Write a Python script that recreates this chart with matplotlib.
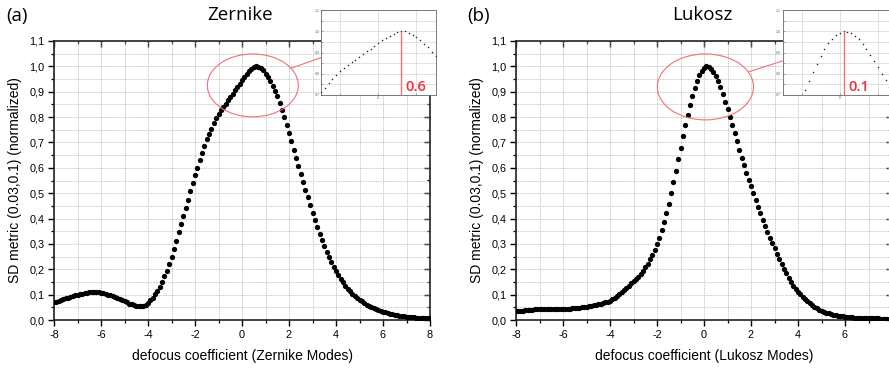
import numpy as np
import matplotlib
matplotlib.use("Agg")
import matplotlib.pyplot as plt
from matplotlib.patches import Ellipse, ConnectionPatch
from matplotlib.ticker import MultipleLocator, FuncFormatter, FixedLocator

# ---------------- data ----------------
defocus = np.round(np.linspace(-8, 8, 161), 1)

zernike_sd = [
    0.070, 0.072, 0.075, 0.078, 0.081, 0.085, 0.088, 0.091, 0.094, 0.097,
    0.100, 0.102, 0.104, 0.106, 0.108, 0.109, 0.110, 0.110, 0.110, 0.109,
    0.108, 0.106, 0.103, 0.100, 0.097, 0.093, 0.089, 0.085, 0.081, 0.077,
    0.073, 0.069, 0.065, 0.062, 0.059, 0.056, 0.055, 0.055, 0.057, 0.061,
    0.068, 0.077, 0.088, 0.102, 0.116, 0.131, 0.150, 0.172, 0.195, 0.219,
    0.247, 0.279, 0.312, 0.346, 0.378, 0.409, 0.441, 0.474, 0.508, 0.540,
    0.570, 0.601, 0.630, 0.659, 0.687, 0.712, 0.733, 0.755, 0.776, 0.796,
    0.812, 0.826, 0.839, 0.853, 0.866, 0.879, 0.892, 0.905, 0.918, 0.932,
    0.945, 0.958, 0.970, 0.980, 0.989, 0.996, 1.000, 0.999, 0.993, 0.984,
    0.971, 0.957, 0.941, 0.924, 0.904, 0.882, 0.857, 0.829, 0.800, 0.769,
    0.737, 0.705, 0.672, 0.640, 0.608, 0.576, 0.545, 0.513, 0.483, 0.453,
    0.422, 0.395, 0.367, 0.341, 0.316, 0.292, 0.270, 0.248, 0.228, 0.210,
    0.193, 0.177, 0.162, 0.148, 0.135, 0.124, 0.113, 0.104, 0.095, 0.087,
    0.080, 0.073, 0.067, 0.061, 0.056, 0.051, 0.047, 0.043, 0.039, 0.036,
    0.033, 0.030, 0.027, 0.025, 0.023, 0.021, 0.019, 0.017, 0.016, 0.014,
    0.013, 0.012, 0.011, 0.010, 0.0095, 0.009, 0.0085, 0.008, 0.0075, 0.007,
    0.007,
]

lukosz_sd = [
    0.034, 0.035, 0.036, 0.037, 0.038, 0.039, 0.040, 0.041, 0.042, 0.042,
    0.043, 0.043, 0.043, 0.043, 0.043, 0.043, 0.043, 0.043, 0.043, 0.043,
    0.043, 0.044, 0.044, 0.045, 0.046, 0.047, 0.048, 0.049, 0.050, 0.052,
    0.053, 0.055, 0.056, 0.058, 0.060, 0.062, 0.064, 0.066, 0.069, 0.072,
    0.076, 0.081, 0.087, 0.094, 0.101, 0.109, 0.117, 0.126, 0.135, 0.144,
    0.153, 0.162, 0.171, 0.181, 0.192, 0.207, 0.222, 0.239, 0.257, 0.277,
    0.300, 0.325, 0.355, 0.386, 0.421, 0.459, 0.500, 0.543, 0.587, 0.633,
    0.680, 0.725, 0.768, 0.810, 0.848, 0.883, 0.915, 0.943, 0.965, 0.982,
    0.994, 1.000, 0.998, 0.990, 0.978, 0.962, 0.942, 0.918, 0.890, 0.860,
    0.830, 0.800, 0.770, 0.738, 0.705, 0.672, 0.640, 0.610, 0.580, 0.553,
    0.527, 0.500, 0.474, 0.447, 0.421, 0.395, 0.371, 0.347, 0.325, 0.304,
    0.282, 0.261, 0.242, 0.222, 0.202, 0.184, 0.166, 0.150, 0.136, 0.123,
    0.112, 0.101, 0.091, 0.082, 0.074, 0.066, 0.059, 0.052, 0.046, 0.041,
    0.036, 0.032, 0.029, 0.026, 0.023, 0.021, 0.019, 0.017, 0.015, 0.014,
    0.013, 0.012, 0.011, 0.010, 0.009, 0.009, 0.008, 0.008, 0.007, 0.007,
    0.007, 0.006, 0.006, 0.006, 0.006, 0.005, 0.005, 0.005, 0.005, 0.005,
    0.005,
]

panel_tags = ["(a)", "(b)"]
panel_titles = ["Zernike", "Lukosz"]
xlabels = ["defocus coefficient (Zernike Modes)", "defocus coefficient (Lukosz Modes)"]
ylabel = "SD metric (0.03,0.1) (normalized)"
peaks = [0.6, 0.1]
peak_labels = ["0.6", "0.1"]
series = [zernike_sd, lukosz_sd]
x_ticks_shown = [[-8, -6, -4, -2, 0, 2, 4, 6, 8], [-8, -6, -4, -2, 0, 2, 4, 6]]

# ---------------- style ----------------
plt.rcParams["font.family"] = ["Liberation Sans", "DejaVu Sans"]
W, H = 889, 372
fig = plt.figure(figsize=(W / 100, H / 100), dpi=100)

def fx(px):
    return px / W

def fy(py):
    return 1 - py / H

ax_rects = [
    [fx(54), fy(320), 376 / W, 279 / H],
    [fx(516), fy(320), 376 / W, 279 / H],
]
inset_rects = [
    [fx(321), fy(95), 114.5 / W, 85 / H],
    [fx(782.5), fy(95), 114.5 / W, 85 / H],
]
ellipses = [  # center x, center y, width, height (data units)
    (0.46, 0.925, 3.87, 0.248),
    (0.06, 0.919, 4.09, 0.26),
]
ell_angle = [33, 27]
conn_frac = [0.44, 0.40]
title_x = [240, 702]
tag_x = [6, 467]
ylabel_x = [15, 477]

red_line = "#f07078"
red_text = "#e8333c"
grid_col = "#b4b4b4"

comma_fmt = FuncFormatter(lambda v, p: f"{v:.1f}".replace(".", ","))

for i in range(2):
    ax = fig.add_axes(ax_rects[i])
    ax.plot(defocus, series[i], "o", color="black", ms=3.8, mew=0, zorder=3)
    ax.set_xlim(-8, 8)
    ax.set_ylim(0, 1.1)
    shown = x_ticks_shown[i]
    ax.xaxis.set_major_locator(MultipleLocator(2))
    ax.xaxis.set_major_formatter(FuncFormatter(
        lambda v, p, s=shown: f"{v:g}" if any(abs(v - t) < 1e-9 for t in s) else ""))
    ax.xaxis.set_minor_locator(MultipleLocator(1))
    ax.yaxis.set_major_locator(MultipleLocator(0.1))
    ax.yaxis.set_minor_locator(MultipleLocator(0.05))
    ax.yaxis.set_major_formatter(comma_fmt)
    ax.set_axisbelow(True)
    ax.grid(which="both", color=grid_col, linestyle=(0, (1, 1)), linewidth=0.6)
    for s in ax.spines.values():
        s.set_linewidth(1.2)
        s.set_color("#222222")
    ax.tick_params(which="major", direction="out", length=4.5, width=1.0,
                   labelsize=7.8, pad=2.5)
    ax.tick_params(which="minor", direction="out", length=2.5, width=0.9)
    # mirrored inward ticks on top / right
    sx = ax.secondary_xaxis("top")
    sx.xaxis.set_major_locator(MultipleLocator(2))
    sx.xaxis.set_minor_locator(MultipleLocator(1))
    sx.tick_params(which="major", direction="in", length=4, width=1.0, labeltop=False)
    sx.tick_params(which="minor", direction="in", length=2.5, width=0.9)
    sx.spines["top"].set_visible(False)
    sy = ax.secondary_yaxis("right")
    sy.yaxis.set_major_locator(MultipleLocator(0.1))
    sy.yaxis.set_minor_locator(MultipleLocator(0.05))
    sy.tick_params(which="major", direction="in", length=4, width=1.0, labelright=False)
    sy.tick_params(which="minor", direction="in", length=2.5, width=0.9)
    sy.spines["right"].set_visible(False)

    ax.set_xlabel(xlabels[i], fontsize=10, labelpad=7)
    fig.text(fx(ylabel_x[i]), fy(180.5), ylabel, rotation=90, fontsize=10,
             ha="center", va="center")
    fig.text(fx(tag_x[i]), fy(16), panel_tags[i], fontsize=13.5,
             family=["Open Sans", "DejaVu Sans"], ha="left", va="center")
    fig.text(fx(title_x[i]), fy(15), panel_titles[i], fontsize=13.5,
             family=["Open Sans", "DejaVu Sans"], ha="center", va="center")

    cx, cy, ew, eh = ellipses[i]
    ell = Ellipse((cx, cy), ew, eh, fill=False, edgecolor=red_line, lw=0.8, zorder=5)
    ax.add_patch(ell)

    # inset
    axin = fig.add_axes(inset_rects[i])
    axin.set_facecolor("white")
    axin.plot(defocus, series[i], "o", color="#222222", ms=1.1, mew=0, zorder=3)
    axin.set_xlim(-1.5, 1.5)
    axin.set_ylim(0.7, 1.1)
    axin.xaxis.set_major_locator(FixedLocator([-1, 0, 1]))
    axin.xaxis.set_major_formatter(FuncFormatter(lambda v, p: "0" if abs(v) < 1e-9 else ""))
    axin.yaxis.set_major_locator(MultipleLocator(0.1))
    axin.yaxis.set_minor_locator(MultipleLocator(0.05))
    axin.set_axisbelow(True)
    axin.grid(which="both", color="#d4d4d4", linewidth=0.5)
    axin.tick_params(which="both", direction="in", length=1.2, width=0.4,
                     labelsize=2.5, pad=1, colors="#666666")
    for s in axin.spines.values():
        s.set_linewidth(0.6)
        s.set_color("#666666")
    axin.vlines(peaks[i], 0.7, 1.0, color=red_line, lw=1.0, zorder=4)
    axin.text(peaks[i] + 0.12, 0.718, peak_labels[i], color=red_text,
              fontsize=10.5, fontweight="semibold",
              family=["Open Sans", "DejaVu Sans"],
              ha="left", va="baseline")

    th = np.deg2rad(ell_angle[i])
    px0 = cx + ew / 2 * np.cos(th)
    py0 = cy + eh / 2 * np.sin(th)
    con = ConnectionPatch(xyA=(px0, py0), coordsA=ax.transData,
                          xyB=(0, conn_frac[i]), coordsB=axin.transAxes,
                          color=red_line, lw=0.8)
    fig.add_artist(con)

fig.savefig("out.png", dpi=100)
